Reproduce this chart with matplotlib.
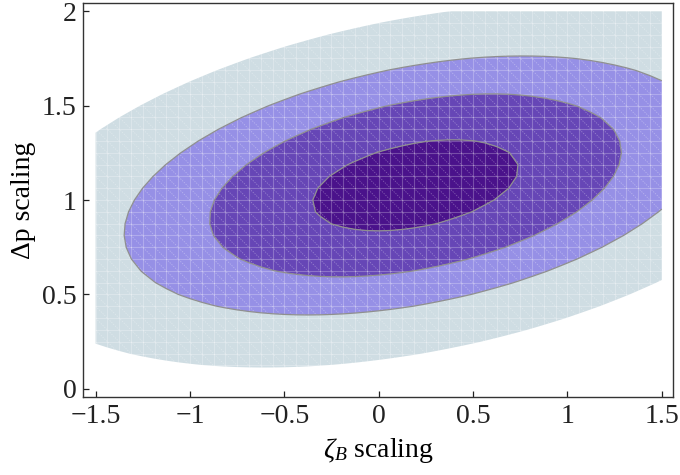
import numpy as np
import matplotlib
matplotlib.use("Agg")
import matplotlib.pyplot as plt

# Best-fit point and covariance of the (zeta_B, delta-p) scaling fit
center_zeta = 0.195
center_dp = 1.077
cov_zz = 0.298
cov_zp = 0.049
cov_pp = 0.0588

# Delta chi^2 contour levels and their fill colours (innermost first)
chi2_levels = [1, 4, 8, 15.8]
fill_colors = ["#4a128b", "#6646b6", "#9690e6", "#cfdde3"]

# Parameter grid (1/16 steps) over the scanned range
grid_step = 1 / 16
zeta_range = (-1.5, 1.5)
dp_range = (0.0, 2.0)

x_ticks = [-1.5, -1, -0.5, 0, 0.5, 1, 1.5]
x_ticklabels = ["\u22121.5", "\u22121", "\u22120.5", "0", "0.5", "1", "1.5"]
y_ticks = [0, 0.5, 1, 1.5, 2]
y_ticklabels = ["0", "0.5", "1", "1.5", "2"]

plt.rcParams["font.family"] = ["Liberation Serif", "DejaVu Serif"]
plt.rcParams["mathtext.fontset"] = "custom"
plt.rcParams["mathtext.rm"] = "Liberation Serif"
plt.rcParams["mathtext.it"] = "Liberation Serif:italic"

xs = np.arange(zeta_range[0], zeta_range[1] + 1e-9, grid_step)
ys = np.arange(dp_range[0], dp_range[1] + 1e-9, grid_step)
X, Y = np.meshgrid(xs, ys)

cov = np.array([[cov_zz, cov_zp], [cov_zp, cov_pp]])
inv = np.linalg.inv(cov)
dx = X - center_zeta
dy = Y - center_dp
chi2 = inv[0, 0] * dx**2 + 2 * inv[0, 1] * dx * dy + inv[1, 1] * dy**2

fig = plt.figure(figsize=(6.8, 4.75), dpi=100)
ax = fig.add_axes([0.1225, 0.1648, 0.8668, 0.8282])

ax.contourf(X, Y, chi2, levels=[0] + chi2_levels, colors=fill_colors,
            antialiased=True, zorder=1)

# light triangulation mesh over the filled region
mesh_kw = dict(color="white", alpha=0.25, lw=0.8, zorder=2)
for xv in xs:
    ax.plot([xv, xv], [dp_range[0], dp_range[1]], **mesh_kw)
for yv in ys:
    ax.plot([zeta_range[0], zeta_range[1]], [yv, yv], **mesh_kw)
for c in np.arange(zeta_range[0] + dp_range[0], zeta_range[1] + dp_range[1] + 1e-9, grid_step):
    x0 = max(zeta_range[0], c - dp_range[1])
    x1 = min(zeta_range[1], c - dp_range[0])
    if x1 > x0:
        ax.plot([x0, x1], [c - x0, c - x1], color="white", alpha=0.32,
                lw=0.6, ls=(0, (1.5, 1.5)), zorder=2)

ax.contour(X, Y, chi2, levels=chi2_levels[:3], colors="#8f8f8f",
           linewidths=0.9, zorder=3)

ax.set_xlim(-1.565, 1.558)
ax.set_ylim(-0.041, 2.041)
ax.set_xticks(x_ticks)
ax.set_xticklabels(x_ticklabels)
ax.set_yticks(y_ticks)
ax.set_yticklabels(y_ticklabels)
ax.tick_params(direction="in", length=4, width=0.9, colors="#222222",
               labelsize=20, pad=5, top=False, right=False)
for s in ax.spines.values():
    s.set_color("#333333")
    s.set_linewidth(1.0)

ax.set_xlabel(r"$\zeta_B$ scaling", fontsize=20, labelpad=5)
ax.set_ylabel("\u0394p scaling", fontsize=20, labelpad=4)

fig.savefig("out.png", dpi=100)
